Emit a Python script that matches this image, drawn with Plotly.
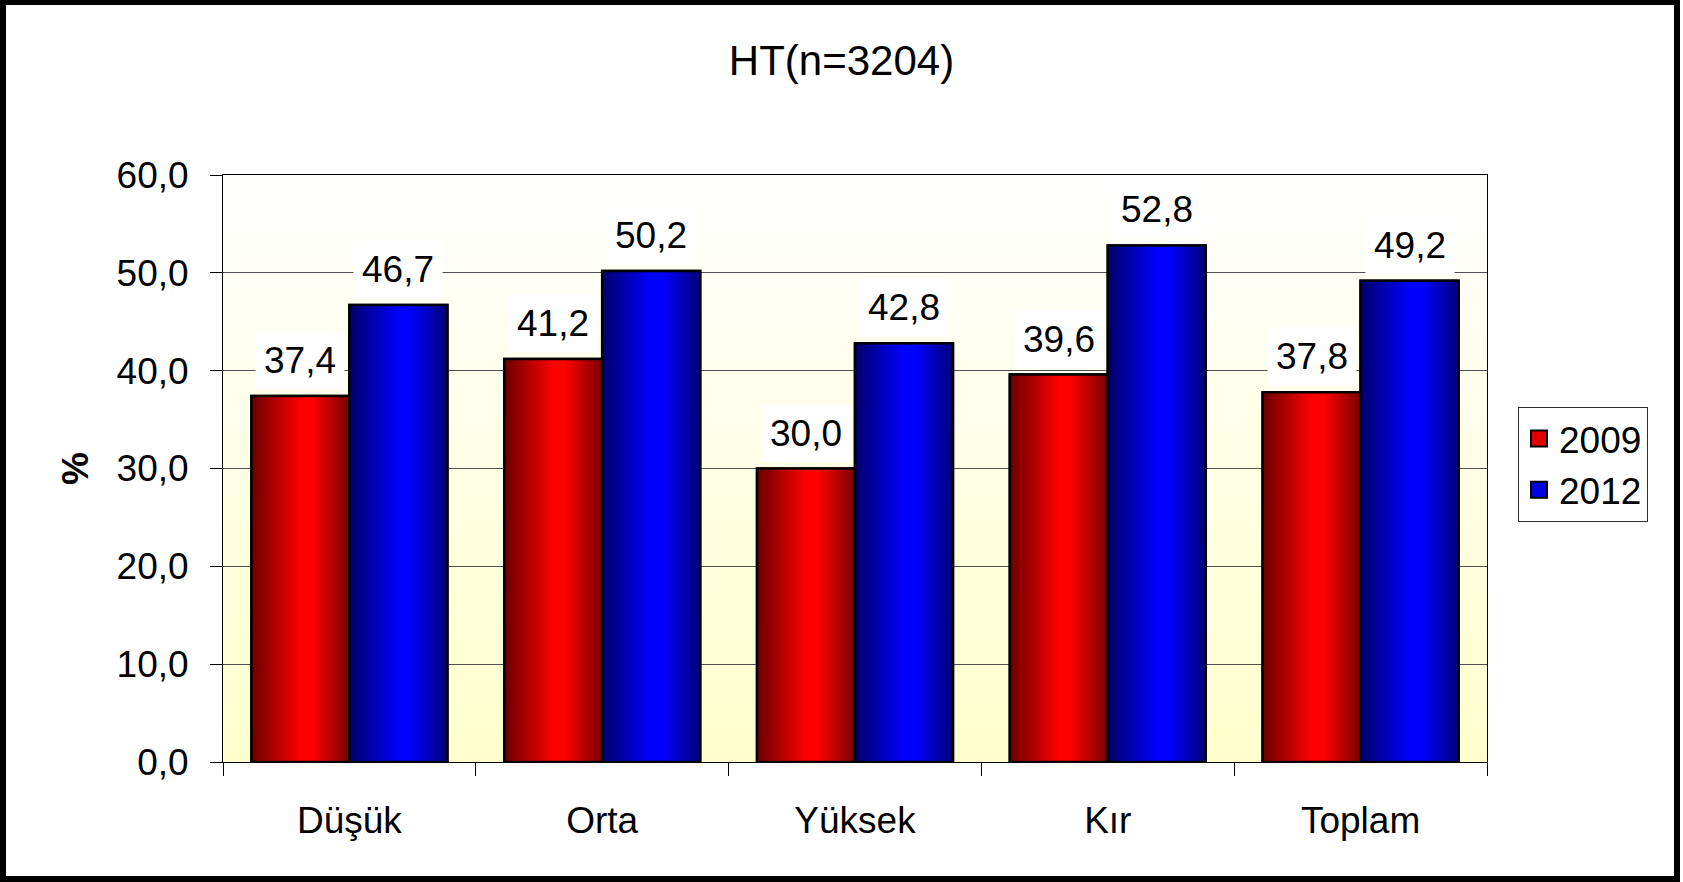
import base64
import plotly.graph_objects as go

# ---------------- data ----------------
categories = ["Düşük", "Orta", "Yüksek", "Kır", "Toplam"]
series_names = ["2009", "2012"]
values_2009 = [37.4, 41.2, 30.0, 39.6, 37.8]
values_2012 = [46.7, 50.2, 42.8, 52.8, 49.2]
y_tick_values = [0, 10, 20, 30, 40, 50, 60]
title_text = "HT(n=3204)"
y_title = "%"

# ---------------- style ----------------
W, H = 1683, 882
ML, MR, MT, MB = 223, 196, 175, 120
PW, PH = W - ML - MR, H - MT - MB
FONT = "Liberation Sans, Arial, sans-serif"
FS = 37
BARGAP = 0.225
BW = (1 - BARGAP) / 2


def fmt(v):
    return f"{v:.1f}".replace(".", ",")


styles = [
    dict(solid="#e00000",
         scale=[[0, "#6a0000"], [0.5, "#ff0000"], [0.62, "#ff0000"], [1, "#780000"]],
         side=-1),
    dict(solid="#0000e0",
         scale=[[0, "#00006a"], [0.5, "#0000ff"], [0.62, "#0000ff"], [1, "#000078"]],
         side=1),
]
all_values = [values_2009, values_2012]
xs = list(range(len(categories)))

fig = go.Figure()

# real bars (data)
for name, vals, st in zip(series_names, all_values, styles):
    fig.add_trace(go.Bar(
        x=xs, y=vals, name=name, showlegend=False,
        marker=dict(color=st["solid"], line=dict(color="black", width=2.5)),
        hoverinfo="y",
    ))

# gradient shading drawn on top of each bar, derived from the same values
for vals, st in zip(all_values, styles):
    for i, v in zip(xs, vals):
        xa = i if st["side"] > 0 else i - BW
        xb = xa + BW
        fig.add_trace(go.Scatter(
            x=[xa, xa, xb, xb, xa], y=[0, v, v, 0, 0],
            mode="lines", fill="toself",
            line=dict(color="black", width=2.5),
            fillgradient=dict(type="horizontal", colorscale=st["scale"],
                              start=xa, stop=xb),
            hoverinfo="skip", showlegend=False,
        ))

# legend entries (larger square swatches)
for name, st in zip(series_names, styles):
    fig.add_trace(go.Scatter(
        x=[None], y=[None], name=name, mode="markers",
        marker=dict(symbol="square", size=16, color=st["solid"],
                    line=dict(color="black", width=2)),
    ))

# value labels with white background
annotations = []
for vals, st in zip(all_values, styles):
    for i, v in zip(xs, vals):
        annotations.append(dict(
            x=i + st["side"] * BW / 2, y=v, xref="x", yref="y",
            text=fmt(v), showarrow=False, yanchor="bottom", yshift=6,
            bgcolor="white", borderpad=8,
            font=dict(family=FONT, size=FS, color="black"),
        ))

# background gradient for plot area
svg = ('<svg xmlns="http://www.w3.org/2000/svg" width="100" height="100" '
       'viewBox="0 0 100 100" preserveAspectRatio="none"><defs>'
       '<linearGradient id="g" x1="0" y1="0" x2="0" y2="1">'
       '<stop offset="0" stop-color="#ffffff"/><stop offset="1" stop-color="#ffffcc"/>'
       '</linearGradient></defs><rect width="100" height="100" fill="url(#g)"/></svg>')
bg_src = "data:image/svg+xml;base64," + base64.b64encode(svg.encode()).decode()


def px_x(p):
    return (p - ML) / PW


def px_y(p):
    return (H - MB - p) / PH


fig.update_layout(
    width=W, height=H,
    margin=dict(l=ML, r=MR, t=MT, b=MB, autoexpand=False),
    paper_bgcolor="white", plot_bgcolor="rgba(0,0,0,0)",
    barmode="group", bargap=BARGAP, bargroupgap=0,
    font=dict(family=FONT, size=FS, color="black"),
    title=dict(text=title_text, x=0.5, xref="container", xanchor="center",
               y=1 - 60 / H, yref="container", yanchor="middle",
               font=dict(family=FONT, size=42, color="black")),
    xaxis=dict(range=[-0.5, len(categories) - 0.5], tickmode="array",
               tickvals=xs, ticktext=categories, ticks="",
               showgrid=False, zeroline=False,
               showline=True, linecolor="black", linewidth=1, mirror=True,
               tickfont=dict(family=FONT, size=FS, color="black"),
               ticklabelstandoff=26,
               minor=dict(tickmode="linear", tick0=-0.5, dtick=1,
                          ticks="outside", ticklen=13, tickcolor="black",
                          tickwidth=1, showgrid=False)),
    yaxis=dict(range=[0, 60], tickmode="array", tickvals=y_tick_values,
               ticktext=[fmt(v) for v in y_tick_values],
               ticks="outside", ticklen=12, tickcolor="black", tickwidth=1,
               showgrid=True, gridcolor="#505050", gridwidth=1,
               zeroline=False,
               showline=True, linecolor="black", linewidth=1, mirror=True,
               tickfont=dict(family=FONT, size=FS, color="black"),
               ticklabelstandoff=14,
               title=dict(text=f"<b>{y_title}</b>", standoff=16,
                          font=dict(family=FONT, size=FS, color="black"))),
    legend=dict(x=px_x(1518), y=px_y(407), xanchor="left", yanchor="top",
                bgcolor="white", bordercolor="#303030", borderwidth=1,
                font=dict(family=FONT, size=FS, color="black"),
                traceorder="normal", itemsizing="trace", tracegroupgap=6),
    annotations=annotations,
    images=[dict(source=bg_src, xref="paper", yref="paper", x=0, y=1,
                 sizex=1, sizey=1, xanchor="left", yanchor="top",
                 sizing="stretch", layer="below")],
    shapes=[dict(type="rect", xref="paper", yref="paper",
                 x0=px_x(3), x1=px_x(1677), y0=px_y(879), y1=px_y(2),
                 line=dict(color="black", width=6), layer="above")],
    showlegend=True,
)

fig.write_html("out.html", config={"displayModeBar": False},
               post_script="document.body.style.margin='0';")
